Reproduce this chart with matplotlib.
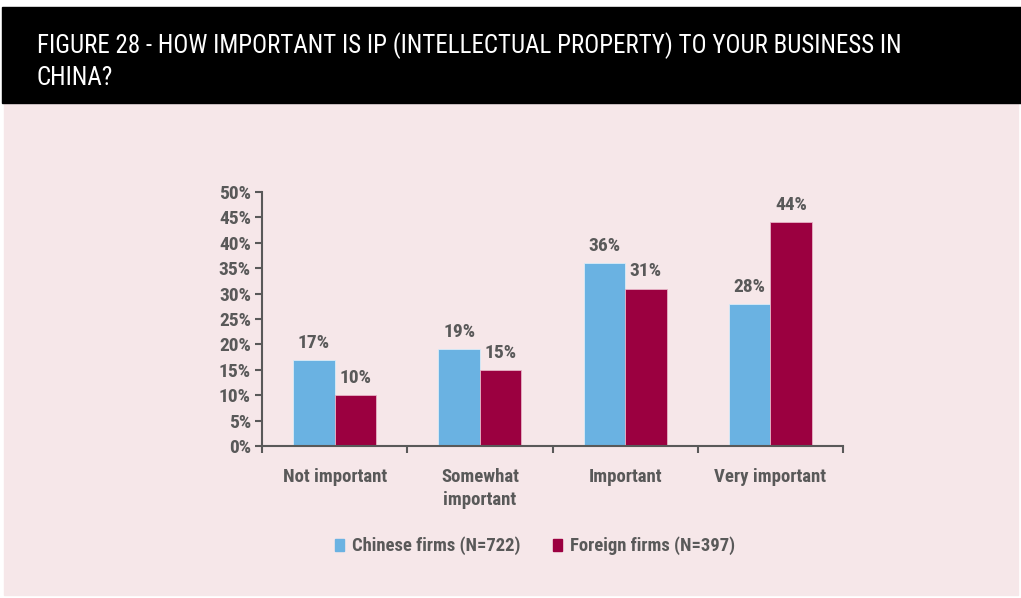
import numpy as np
import matplotlib.pyplot as plt
import matplotlib.patches as mpatches

categories = ["Not important", "Somewhat\nimportant", "Important", "Very important"]
chinese = [17, 19, 36, 28]
foreign = [10, 15, 31, 44]
series_labels = ["Chinese firms (N=722)", "Foreign firms (N=397)"]
yticks = [0, 5, 10, 15, 20, 25, 30, 35, 40, 45, 50]
title_lines = ["FIGURE 28 - HOW IMPORTANT IS IP (INTELLECTUAL PROPERTY) TO YOUR BUSINESS IN", "CHINA?"]

BLUE = "#6ab2e2"
MAROON = "#9b0040"
PINK = "#f6e7e9"
GREY = "#595959"

plt.rcParams["font.family"] = ["Roboto Condensed", "DejaVu Sans"]

fig = plt.figure(figsize=(10.21, 5.98), dpi=100)
fig.patch.set_facecolor("white")

# background panels
fig.add_artist(mpatches.Rectangle((4 / 1021, 3 / 598), 1014 / 1021, 492 / 598,
                                  transform=fig.transFigure, color=PINK, zorder=0))
fig.add_artist(mpatches.Rectangle((2 / 1021, 495 / 598), 1019 / 1021, 96 / 598,
                                  transform=fig.transFigure, color="black", zorder=0))
for k, line in enumerate(title_lines):
    fig.text(37 / 1021, 1 - (46 + 32 * k) / 598, line, color="white", fontsize=18,
             va="center", ha="left")

ax = fig.add_axes([262 / 1021, 1 - 446 / 598, 581 / 1021, 254 / 598])
ax.set_facecolor("none")
x = np.arange(len(categories))
w = 0.285
b1 = ax.bar(x - w / 2, chinese, w, color=BLUE, edgecolor="#d9ecf8", linewidth=0.6, zorder=2)
b2 = ax.bar(x + w / 2, foreign, w, color=MAROON, edgecolor="#e6b3c6", linewidth=0.6, zorder=2)
for bars, vals in ((b1, chinese), (b2, foreign)):
    for r, v in zip(bars, vals):
        ax.text(r.get_x() + r.get_width() / 2, v + 1.6, f"{v}%", ha="center", va="bottom",
                fontsize=14, fontweight="bold", color=GREY)

ax.set_xlim(-0.5, len(categories) - 0.5)
ax.set_ylim(0, 50)
ax.set_yticks(yticks)
ax.set_yticklabels([f"{t}%" for t in yticks], fontsize=14, fontweight="bold", color=GREY)
ax.set_xticks(np.arange(len(categories) + 1) - 0.5)
ax.set_xticklabels([])
ax.tick_params(axis="both", colors=GREY, length=5, width=1.5, direction="out")
ax.tick_params(axis="y", pad=3)
for i, c in enumerate(categories):
    ax.text(i, -4.3, c, ha="center", va="top", fontsize=13.5, fontweight="bold",
            color=GREY, linespacing=1.4)
for s in ("top", "right"):
    ax.spines[s].set_visible(False)
for s in ("left", "bottom"):
    ax.spines[s].set_color(GREY)
    ax.spines[s].set_linewidth(1.5)

handles = [mpatches.Patch(color=BLUE, label=series_labels[0]),
           mpatches.Patch(color=MAROON, label=series_labels[1])]
leg = fig.legend(handles=handles, loc="center", bbox_to_anchor=(535 / 1021, 1 - 546 / 598),
                 ncol=2, frameon=False, handlelength=0.5, handleheight=0.65, handletextpad=0.45,
                 columnspacing=1.7, prop={"size": 13.4, "weight": "bold"})
for t in leg.get_texts():
    t.set_color(GREY)

fig.savefig("out.png", dpi=100, facecolor="white")
